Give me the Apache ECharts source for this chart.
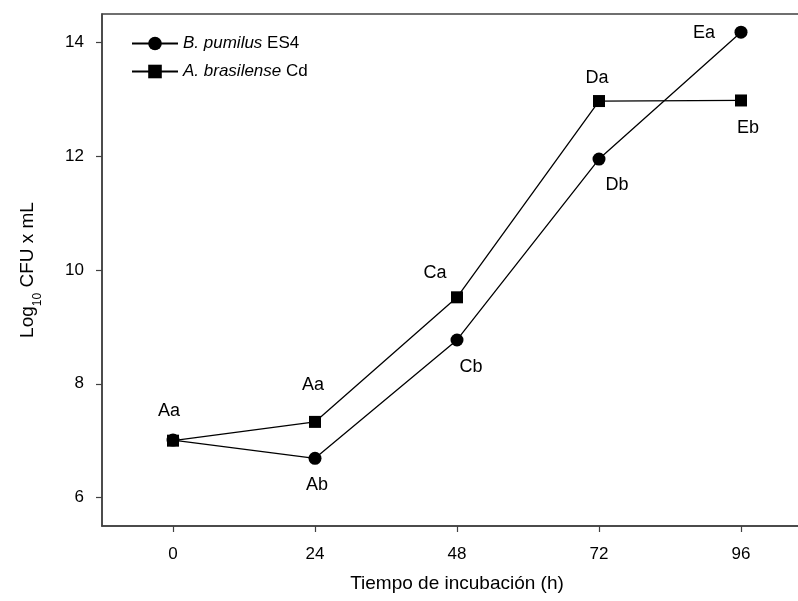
<!DOCTYPE html>
<html><head><meta charset="utf-8">
<script src="https://cdn.jsdelivr.net/npm/echarts@6/dist/echarts.min.js"></script>
<style>html,body{margin:0;padding:0;background:#fff}#chart{width:798px;height:601px}</style>
</head><body><div id="chart"></div>
<script>
// Incubation time (h) and log10 CFU counts per strain
const hours = [0, 24, 48, 72, 96];
const pumilusLog = [7.01, 6.69, 8.77, 11.95, 14.18];
const brasilenseLog = [7.00, 7.33, 9.52, 12.97, 12.98];
// Significance letters shown beside each point
const pumilusLetters = ['', 'Ab', 'Cb', 'Db', 'Ea'];
const brasilenseLetters = ['Aa', 'Aa', 'Ca', 'Da', 'Eb'];
// Tick values
const xTicks = [0, 24, 48, 72, 96];
const yTicks = [6, 8, 10, 12, 14];

// Label placement relative to each marker (px)
const pumilusLabelOffsets = [[0, 0], [2, 27], [14, 27], [18, 26], [-37, 1]];
const brasilenseLabelOffsets = [[-4, -30], [-2, -37], [-22, -24], [-2, -23], [7, 28]];

const FONT = 'Arial, "Liberation Sans", sans-serif';
const AXIS = '#404040';

function buildData(values, letters, offsets) {
  return hours.map((h, i) => ({
    value: [h, values[i]],
    label: {
      show: letters[i] !== '',
      formatter: letters[i],
      position: 'inside',
      offset: offsets[i]
    }
  }));
}

const chart = echarts.init(document.getElementById('chart'), null, { renderer: 'canvas' });
chart.setOption({
  animation: false,
  backgroundColor: '#fff',
  // the frame runs a little past the right edge of the canvas
  grid: {
    left: 102, top: 14, width: 710, height: 512,
    outerBoundsMode: 'none', containLabel: false,
    show: true, borderColor: AXIS, borderWidth: 1.5, backgroundColor: 'transparent'
  },
  legend: {
    orient: 'vertical', left: 126, top: 30,
    itemWidth: 46, itemHeight: 17, itemGap: 11,
    textStyle: {
      fontFamily: FONT, fontSize: 17, color: '#000',
      rich: { i: { fontFamily: FONT, fontSize: 17, fontStyle: 'italic', color: '#000' } }
    },
    formatter: function (name) {
      const parts = name.split(' ');
      const tag = parts.pop();
      return '{i|' + parts.join(' ') + '} ' + tag;
    },
    data: ['B. pumilus ES4', 'A. brasilense Cd']
  },
  xAxis: {
    type: 'value', min: -12, max: 108,
    name: 'Tiempo de incubación (h)', nameLocation: 'middle', nameGap: 48,
    nameTextStyle: { fontFamily: FONT, fontSize: 19, color: '#000' },
    axisLine: { show: true, onZero: false, lineStyle: { color: AXIS, width: 1.5 } },
    axisTick: { show: true, length: 6, customValues: xTicks, lineStyle: { color: AXIS, width: 1.2 } },
    axisLabel: { customValues: xTicks, margin: 20, fontFamily: FONT, fontSize: 17, color: '#000' },
    splitLine: { show: false }
  },
  yAxis: {
    type: 'value', min: 5.5, max: 14.5,
    name: '{a|Log}{s|10}{a| CFU x mL}', nameLocation: 'middle', nameGap: 62, nameRotate: 90,
    nameTextStyle: {
      fontFamily: FONT, fontSize: 19, color: '#000',
      rich: {
        a: { fontFamily: FONT, fontSize: 19, color: '#000', lineHeight: 24 },
        s: { fontFamily: FONT, fontSize: 12, color: '#000', lineHeight: 12, verticalAlign: 'bottom', padding: [0, 0, -4, 0] }
      }
    },
    axisLine: { show: true, onZero: false, lineStyle: { color: AXIS, width: 1.5 } },
    axisTick: { show: true, length: 6, customValues: yTicks, lineStyle: { color: AXIS, width: 1.2 } },
    axisLabel: { customValues: yTicks, margin: 18, fontFamily: FONT, fontSize: 17, color: '#000' },
    splitLine: { show: false }
  },
  series: [
    {
      name: 'B. pumilus ES4', type: 'line',
      symbol: 'circle', symbolSize: 13,
      lineStyle: { color: '#000', width: 1.3 },
      itemStyle: { color: '#000' },
      label: { fontFamily: FONT, fontSize: 18, color: '#000' },
      data: buildData(pumilusLog, pumilusLetters, pumilusLabelOffsets)
    },
    {
      name: 'A. brasilense Cd', type: 'line',
      symbol: 'rect', symbolSize: 12,
      lineStyle: { color: '#000', width: 1.3 },
      itemStyle: { color: '#000' },
      label: { fontFamily: FONT, fontSize: 18, color: '#000' },
      data: buildData(brasilenseLog, brasilenseLetters, brasilenseLabelOffsets)
    }
  ]
});
</script></body></html>
